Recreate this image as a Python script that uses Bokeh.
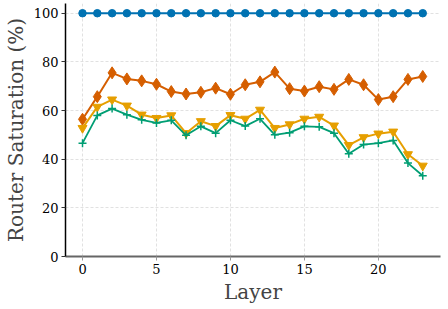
from bokeh.plotting import figure
from bokeh.models import Range1d, FixedTicker
from bokeh.embed import file_html
from bokeh.resources import INLINE

layers = list(range(24))
blue_vals = [100] * 24
diamond_vals = [56.4, 65.7, 75.5, 73.0, 72.2, 70.8, 67.8, 66.8, 67.5, 69.2, 66.7, 70.6,
                71.8, 75.8, 69.0, 68.0, 69.8, 68.7, 72.8, 70.6, 64.5, 65.7, 72.8, 74.0]
triangle_vals = [52.8, 61.5, 64.5, 62.0, 58.3, 56.9, 58.0, 50.7, 55.6, 53.6, 58.1, 56.6,
                 60.3, 52.8, 54.3, 56.6, 57.4, 53.8, 45.8, 49.0, 50.5, 51.3, 42.0, 37.3]
cross_vals = [46.6, 58.0, 60.8, 58.3, 56.2, 54.9, 56.0, 49.8, 53.5, 50.7, 56.0, 53.6,
              56.6, 50.0, 50.9, 53.5, 53.3, 50.7, 42.2, 46.0, 46.6, 47.7, 38.4, 33.2]
x_ticks = [0, 5, 10, 15, 20]
y_ticks = [0, 20, 40, 60, 80, 100]

FONT = "DejaVu Serif"

p = figure(width=448, height=309, output_backend="svg", toolbar_location=None,
           x_range=Range1d(-1.15, 24.2), y_range=Range1d(0, 104),
           min_border_left=65, min_border_right=8, min_border_top=3, min_border_bottom=53)
p.outline_line_color = None

p.line(layers, blue_vals, line_color="#0072B2", line_width=2)
p.scatter(layers, blue_vals, marker="circle", size=7.5, fill_color="#0072B2", line_color="#0072B2")

p.line(layers, diamond_vals, line_color="#D55E00", line_width=2)
p.scatter(layers, diamond_vals, marker="diamond", size=12, fill_color="#D55E00", line_color="#D55E00")

p.line(layers, triangle_vals, line_color="#E69F00", line_width=2)
p.scatter(layers, triangle_vals, marker="inverted_triangle", size=9, fill_color="#E69F00", line_color="#E69F00")

p.line(layers, cross_vals, line_color="#009E73", line_width=1.8)
p.scatter(layers, cross_vals, marker="cross", size=8, line_color="#009E73", line_width=1.5)

p.xaxis.ticker = FixedTicker(ticks=x_ticks)
p.yaxis.ticker = FixedTicker(ticks=y_ticks)
for ax in (p.xaxis, p.yaxis):
    ax.axis_label_text_font = FONT
    ax.axis_label_text_font_style = "normal"
    ax.axis_label_text_font_size = "20px"
    ax.major_label_text_font = FONT
    ax.major_label_text_font_size = "13px"
    ax.major_label_text_color = "#000000"
    ax.minor_tick_line_color = None
    ax.major_tick_in = 0
    ax.major_tick_out = 4
    ax.major_label_standoff = 3
p.xaxis.axis_label = "Layer"
p.yaxis.axis_label = "Router Saturation (%)"
p.xaxis.axis_line_color = "#666666"
p.xaxis.axis_line_width = 2
p.xaxis.major_tick_line_color = "#999999"
p.yaxis.axis_line_color = "#000000"
p.yaxis.axis_line_width = 1.5
p.yaxis.major_tick_line_color = "#333333"
p.xaxis.axis_label_standoff = 3
p.yaxis.axis_label_standoff = 3

for g in (p.xgrid, p.ygrid):
    g.grid_line_color = "#d9d9d9"
    g.grid_line_dash = "3 2"
    g.grid_line_width = 0.8

open("out.html", "w").write(file_html(p, INLINE))
